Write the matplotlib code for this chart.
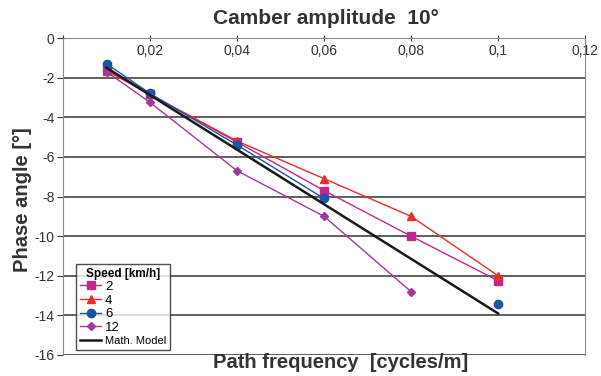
import numpy as np
import matplotlib.pyplot as plt
from matplotlib.ticker import FuncFormatter

plt.rcParams['font.family'] = ['Liberation Sans', 'DejaVu Sans']

freq = [0.01, 0.02, 0.04, 0.06, 0.08, 0.1]
speed_2 = [-1.6, -2.85, -5.25, -7.7, -10.0, -12.25]
speed_4 = [-1.65, -2.85, -5.2, -7.1, -9.0, -12.0]
speed_6 = [-1.3, -2.8, -5.4, -8.1, np.nan, -13.45]
speed_12 = [-1.7, -3.25, -6.7, -9.0, -12.8, np.nan]
model_x = [0.01, 0.1]
model_y = [-1.5, -13.9]

fig = plt.figure(figsize=(6.01, 3.76), dpi=100)
ax = fig.add_axes([63 / 601, 1 - 355 / 376, 522 / 601, 317 / 376])

ax.plot(freq, speed_2, color='#C0288E', lw=1, marker='s', ms=6, label='2')
ax.plot(freq, speed_4, color='#EE2A2A', lw=1, marker='^', ms=6, label='4')
ax.plot(freq, speed_6, color='#1C55A5', lw=1, marker='o', ms=6, label='6')
ax.plot(freq, speed_12, color='#A2389C', lw=1, marker='D', ms=4.5, label='12')
ax.plot(model_x, model_y, color='#1a1a1a', lw=1.8, label='Math. Model')

ax.set_xlim(0, 0.12)
ax.set_ylim(-16, 0)
ax.set_xticks(np.arange(0, 0.121, 0.02))
ax.set_yticks(np.arange(-16, 0.1, 2))
ax.xaxis.tick_top()


def comma(v, pos):
    if abs(v) < 1e-9:
        return ''
    return f'{v:g}'.replace('.', ',')


ax.xaxis.set_major_formatter(FuncFormatter(comma))
ax.yaxis.set_major_formatter(FuncFormatter(lambda v, p: f'{v:g}'))
ax.tick_params(axis='x', direction='inout', length=5, labelsize=10, colors='#333333', pad=-17)
ax.tick_params(axis='y', direction='out', length=4, labelsize=10, colors='#333333', pad=2)
for lab in ax.get_xticklabels() + ax.get_yticklabels():
    lab.set_color('#333333')

ax.grid(axis='y', color='#444444', lw=1.2)
ax.set_axisbelow(True)
for s in ['left', 'top', 'right']:
    ax.spines[s].set_color('#888888')
ax.spines['bottom'].set_visible(False)

fig.text(0.543, 0.952, 'Camber amplitude  10°', ha='center', va='center',
         fontsize=15, fontweight='bold', color='#333333')
fig.text(0.567, 0.035, 'Path frequency  [cycles/m]', ha='center', va='center',
         fontsize=14.5, fontweight='bold', color='#333333')
fig.text(0.038, 0.468, 'Phase angle [°]', ha='center', va='center', rotation=90,
         fontsize=14.5, fontweight='bold', color='#333333')

leg = ax.legend(loc='lower left', bbox_to_anchor=(0.025, 0.015), title='Speed [km/h]',
                fontsize=9.5, title_fontproperties={'weight': 'bold', 'size': 8.5},
                frameon=True, fancybox=False, handlelength=1.6, handletextpad=0.3,
                labelspacing=0.1, borderpad=0.3, borderaxespad=0)
leg.get_frame().set_edgecolor('#222222')
leg.get_frame().set_linewidth(1)
leg.get_texts()[-1].set_fontsize(8)

fig.savefig('out.png', dpi=100)
